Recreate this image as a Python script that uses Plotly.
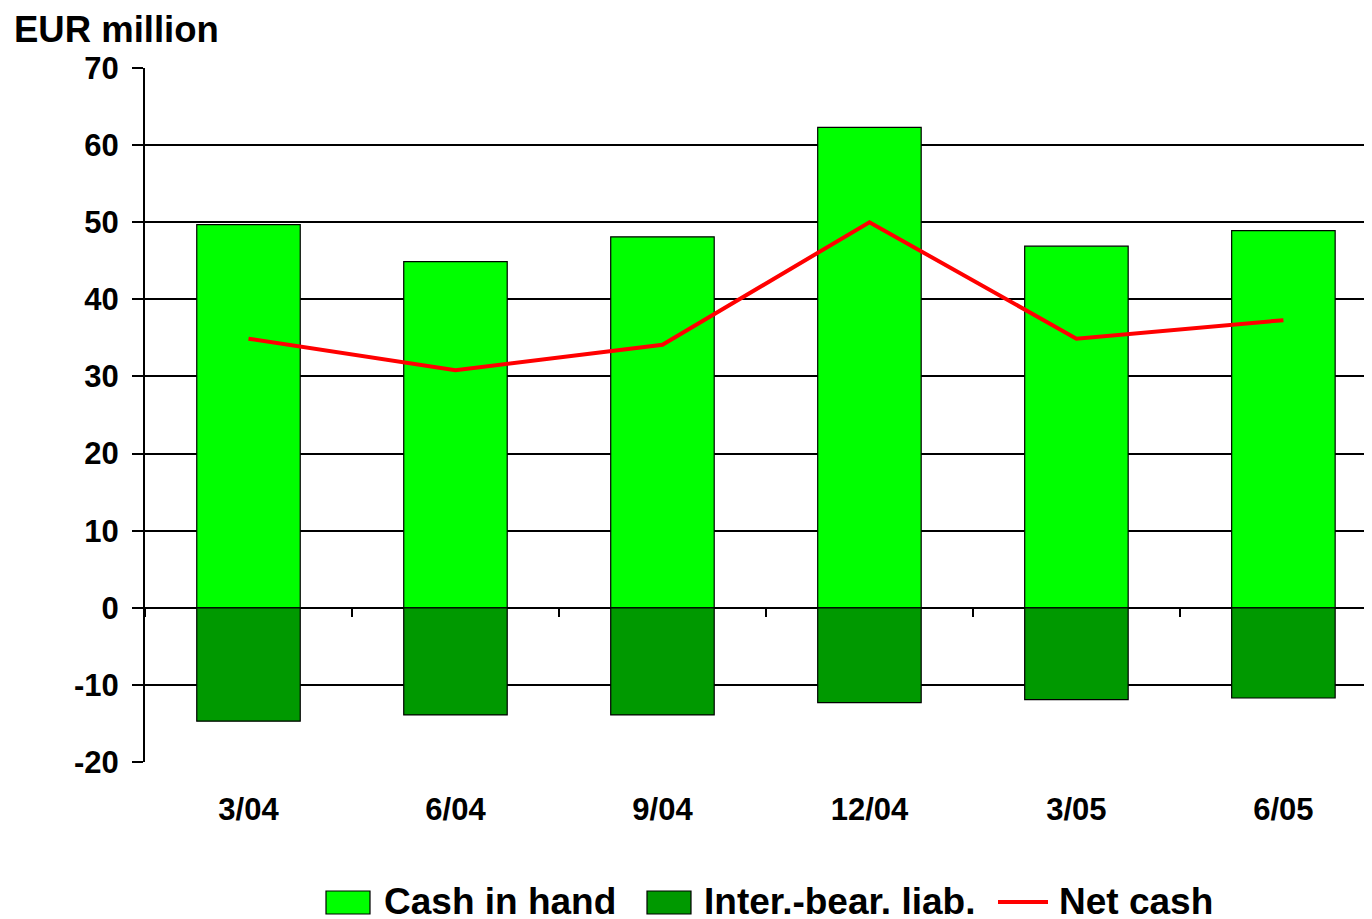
import plotly.graph_objects as go

categories = ["3/04", "6/04", "9/04", "12/04", "3/05", "6/05"]
cash_in_hand = [49.7, 44.9, 48.1, 62.3, 46.9, 48.9]
inter_bear_liab = [-14.7, -13.9, -13.9, -12.3, -11.9, -11.7]
net_cash = [34.9, 30.8, 34.1, 50.0, 34.9, 37.3]
y_ticks = [-20, -10, 0, 10, 20, 30, 40, 50, 60, 70]
y_tick_text = ["-20", "-10", "0", "10", "20", "30", "40", "50", "60", "70"]
series_names = ["Cash in hand", "Inter.-bear. liab.", "Net cash"]
colors = ["#00FF00", "#009900", "#FF0000"]

FONT = "Liberation Sans, Arial, sans-serif"

# page-pixel -> paper helpers (plot area spans page x 145..1372, y 68..762)
def px(X):
    return (X - 145) / 1227.0

def py(Y):
    return (762 - Y) / 694.0

fig = go.Figure()
fig.add_trace(go.Bar(x=categories, y=cash_in_hand, name=series_names[0],
                     marker=dict(color=colors[0], line=dict(color="black", width=1.2)),
                     width=0.5, showlegend=False))
fig.add_trace(go.Bar(x=categories, y=inter_bear_liab, name=series_names[1],
                     marker=dict(color=colors[1], line=dict(color="black", width=1.2)),
                     width=0.5, showlegend=False))
fig.add_trace(go.Scatter(x=categories, y=net_cash, name=series_names[2], mode="lines",
                         line=dict(color=colors[2], width=4), showlegend=False))
# invisible trace to activate the boundary-tick axis on the zero line
fig.add_trace(go.Scatter(x=categories, y=[None] * len(categories), xaxis="x2",
                         showlegend=False, hoverinfo="skip"))

shapes = []
annotations = []
# manual legend
legend_items = [
    ("box", 326, 370, 383),
    ("box", 647, 691, 703),
    ("line", 998, 1048, 1058),
]
for (kind, x0, x1, tx), name, col in zip(legend_items, series_names, colors):
    if kind == "box":
        shapes.append(dict(type="rect", xref="paper", yref="paper",
                           x0=px(x0), x1=px(x1), y0=py(914), y1=py(891),
                           fillcolor=col, line=dict(color="black", width=1.2)))
    else:
        shapes.append(dict(type="line", xref="paper", yref="paper",
                           x0=px(x0), x1=px(x1), y0=py(902), y1=py(902),
                           line=dict(color=col, width=4)))
    annotations.append(dict(text=name, xref="paper", yref="paper", x=px(tx), y=py(901),
                            xanchor="left", yanchor="middle", showarrow=False,
                            borderpad=0,
                            font=dict(family=FONT, size=37, color="black", weight="bold")))

annotations.append(dict(text="EUR million", xref="paper", yref="paper",
                        x=px(13), y=py(29), xanchor="left", yanchor="middle",
                        showarrow=False, borderpad=0,
                        font=dict(family=FONT, size=36.5, color="black", weight="bold")))

fig.update_layout(
    width=1364, height=911,
    margin=dict(l=137, r=0, t=60, b=157),
    paper_bgcolor="white", plot_bgcolor="white",
    barmode="relative",
    font=dict(family=FONT, size=31, color="black", weight="bold"),
    xaxis=dict(type="category", range=[-0.5, 5.428], showline=False, showgrid=False,
               ticks="outside", ticklen=0, ticklabelstandoff=20,
               tickfont=dict(family=FONT, size=31, weight="bold")),
    xaxis2=dict(type="category", matches="x", overlaying="x", anchor="free",
                position=20 / 90, ticks="outside", tickson="boundaries", ticklen=8,
                tickcolor="black", tickwidth=1.8, showticklabels=False,
                showline=False, showgrid=False),
    yaxis=dict(range=[-20, 70], tickvals=y_ticks, ticktext=y_tick_text,
               showgrid=True, gridcolor="black",
               gridwidth=1.7, zeroline=True, zerolinecolor="black", zerolinewidth=2,
               showline=True, linecolor="black", linewidth=2,
               ticks="outside", ticklen=11, tickcolor="black", tickwidth=1.7,
               ticklabelstandoff=7,
               tickfont=dict(family=FONT, size=31, weight="bold")),
    shapes=shapes,
    annotations=annotations,
    showlegend=False,
)

fig.write_html("out.html")
